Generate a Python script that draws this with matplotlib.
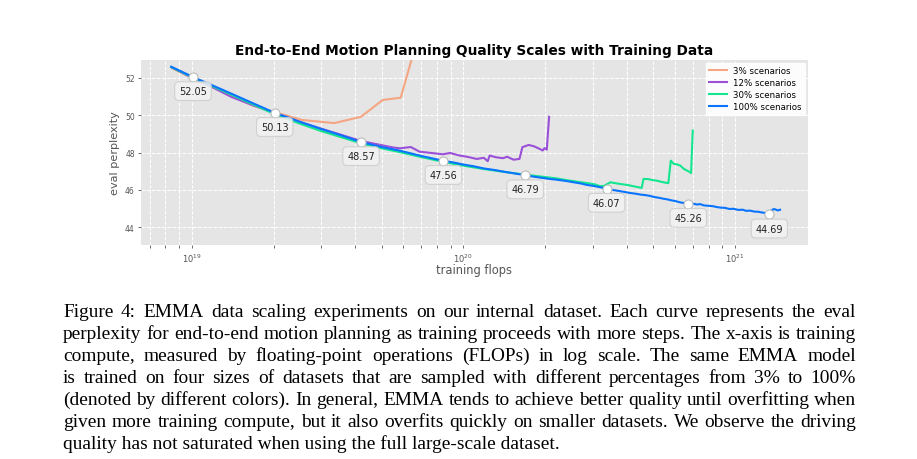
import matplotlib
matplotlib.use("Agg")
import matplotlib.pyplot as plt
from matplotlib.ticker import LogLocator, NullFormatter

# ---------------- data ----------------
labels = ["3% scenarios", "12% scenarios", "30% scenarios", "100% scenarios"]

x3 = [8.45e18, 1.01e19, 1.27e19, 1.69e19, 2.54e19, 3.35e19, 4.2e19, 5.05e19, 5.88e19, 6.75e19]
y3 = [52.52, 51.98, 51.32, 50.50, 49.75, 49.58, 49.92, 50.82, 50.94, 54.0]

x12 = [8.4e18, 1.01e19, 1.2e19, 1.4e19, 1.69e19, 2.02e19, 2.53e19, 3.0e19, 3.5e19, 4.2e19,
       5.07e19, 5.53e19, 5.85e19, 6.4e19, 6.9e19, 7.73e19, 8.4e19, 8.94e19, 9.7e19, 1.03e20,
       1.12e20, 1.19e20, 1.23e20, 1.25e20, 1.32e20, 1.40e20, 1.45e20, 1.53e20, 1.61e20, 1.65e20,
       1.74e20, 1.82e20, 1.91e20, 1.96e20, 1.99e20, 2.03e20, 2.07e20]
y12 = [52.58, 51.98, 51.48, 50.98, 50.52, 50.12, 49.62, 49.28, 48.98, 48.62,
       48.38, 48.27, 48.23, 48.30, 48.05, 47.97, 47.91, 47.98, 47.84, 47.78,
       47.66, 47.72, 47.54, 47.84, 47.75, 47.70, 47.78, 47.62, 47.66, 48.29,
       48.41, 48.34, 48.20, 48.11, 48.24, 48.16, 49.92]

x30 = [8.4e18, 1.01e19, 1.3e19, 1.6e19, 2.02e19, 2.5e19, 3.0e19, 3.5e19, 4.2e19, 5.0e19,
       5.85e19, 7.0e19, 8.45e19, 1.0e20, 1.19e20, 1.42e20, 1.69e20, 2.0e20, 2.2e20, 2.39e20,
       2.6e20, 2.85e20, 3.05e20, 3.19e20, 3.3e20, 3.48e20, 3.6e20, 3.78e20, 4.0e20, 4.23e20,
       4.4e20, 4.54e20, 4.61e20, 4.8e20, 5.0e20, 5.15e20, 5.31e20, 5.5e20, 5.69e20, 5.81e20,
       5.95e20, 6.15e20, 6.3e20, 6.5e20, 6.75e20, 6.9e20, 7.0e20]
y30 = [52.58, 52.02, 51.31, 50.72, 50.06, 49.55, 49.15, 48.85, 48.50, 48.23,
       48.02, 47.76, 47.50, 47.30, 47.12, 46.96, 46.82, 46.69, 46.62, 46.53,
       46.45, 46.37, 46.30, 46.20, 46.22, 46.41, 46.37, 46.32, 46.27, 46.20,
       46.15, 46.11, 46.59, 46.58, 46.52, 46.50, 46.45, 46.40, 46.36, 47.57,
       47.40, 47.36, 47.30, 47.12, 47.00, 46.90, 49.18]

x100 = [8.4e18, 1.01e19, 1.3e19, 1.6e19, 2.02e19, 2.5e19, 3.0e19, 3.5e19, 4.2e19, 5.0e19,
        5.85e19, 7.0e19, 8.45e19, 9.2e19, 1.0e20, 1.09e20, 1.19e20, 1.3e20, 1.42e20, 1.55e20,
        1.69e20, 1.8e20, 1.92e20, 2.05e20, 2.2e20, 2.39e20, 2.55e20, 2.7e20, 2.85e20, 3.0e20,
        3.18e20, 3.37e20, 3.55e20, 3.72e20, 3.9e20, 4.1e20, 4.3e20, 4.5e20, 4.7e20, 4.87e20,
        5.05e20, 5.25e20, 5.45e20, 5.62e20, 5.85e20, 6.05e20, 6.3e20, 6.5e20, 6.74e20, 7.0e20,
        7.25e20, 7.45e20, 7.7e20, 8.0e20, 8.3e20, 8.59e20, 8.9e20, 9.2e20, 9.55e20, 9.89e20,
        1.03e21, 1.07e21, 1.1e21, 1.138e21, 1.18e21, 1.22e21, 1.26e21, 1.29e21, 1.31e21, 1.34e21,
        1.36e21, 1.387e21, 1.41e21, 1.44e21, 1.468e21]
y100 = [52.60, 52.05, 51.36, 50.78, 50.13, 49.65, 49.26, 48.95, 48.57, 48.30,
        48.10, 47.82, 47.56, 47.47, 47.36, 47.27, 47.15, 47.07, 46.97, 46.88,
        46.79, 46.72, 46.66, 46.60, 46.55, 46.48, 46.41, 46.35, 46.27, 46.22,
        46.15, 46.07, 46.00, 45.95, 45.90, 45.84, 45.80, 45.75, 45.72, 45.68,
        45.62, 45.58, 45.53, 45.50, 45.44, 45.40, 45.33, 45.30, 45.26, 45.27,
        45.22, 45.24, 45.17, 45.15, 45.13, 45.08, 45.05, 45.04, 44.98, 44.99,
        44.93, 44.94, 44.88, 44.89, 44.84, 44.83, 44.79, 44.77, 44.74, 44.69,
        44.88, 44.97, 44.96, 44.90, 44.94]

mark_x = [1.01e19, 2.02e19, 4.2e19, 8.45e19, 1.69e20, 3.37e20, 6.74e20, 1.34e21]
mark_y = [52.05, 50.13, 48.57, 47.56, 46.79, 46.07, 45.26, 44.69]

title = "End-to-End Motion Planning Quality Scales with Training Data"
xlabel = "training flops"
ylabel = "eval perplexity"

caption_lines = [
    "Figure 4: EMMA data scaling experiments on our internal dataset. Each curve represents the eval",
    "perplexity for end-to-end motion planning as training proceeds with more steps. The x-axis is training",
    "compute, measured by floating-point operations (FLOPs) in log scale.  The same EMMA model",
    "is trained on four sizes of datasets that are sampled with different percentages from 3% to 100%",
    "(denoted by different colors). In general, EMMA tends to achieve better quality until overfitting when",
    "given more training compute, but it also overfits quickly on smaller datasets. We observe the driving",
    "quality has not saturated when using the full large-scale dataset.",
]

colors = ["#f4a582", "#9a50d8", "#14e68f", "#0a74ff"]

# ---------------- figure ----------------
W, H = 917, 460
fig = plt.figure(figsize=(W / 100, H / 100), dpi=100)
L, R, T, B = 141, 808, 61, 246
ax = fig.add_axes([L / W, 1 - B / H, (R - L) / W, (B - T) / H])
ax.set_facecolor("#e5e5e5")
for s in ax.spines.values():
    s.set_visible(False)

series = [(x3, y3), (x12, y12), (x30, y30), (x100, y100)]
for (xs, ys), c, lab in zip(series, colors, labels):
    ax.plot(xs, ys, color=c, lw=1.5, label=lab, zorder=3)

ax.set_xscale("log")
ax.set_xlim(6.5e18, 1.86e21)
ax.set_ylim(43.05, 52.96)
ax.set_yticks([44, 46, 48, 50, 52])
ax.xaxis.set_minor_locator(LogLocator(base=10, subs=range(2, 10), numticks=50))
ax.xaxis.set_minor_formatter(NullFormatter())

ax.set_axisbelow(True)
ax.grid(which="major", axis="both", color="white", ls="--", lw=0.7)
ax.grid(which="minor", axis="x", color="white", ls="--", lw=0.7)

ax.tick_params(axis="both", which="both", colors="#555555", length=2.5, width=0.6, pad=2)
ax.tick_params(axis="y", labelsize=5.5)
ax.tick_params(axis="x", labelsize=6)

ax.plot(mark_x, mark_y, "o", ms=6.5, mfc="white", mec="#bbbbbb", mew=0.8, zorder=5)
for mx, my in zip(mark_x, mark_y):
    ax.annotate(f"{my:.2f}", (mx, my), xytext=(0, -10.2), textcoords="offset points",
                ha="center", va="center", fontsize=7, color="#222222", zorder=6,
                bbox=dict(boxstyle="round,pad=0.45", fc="#f2f2f2", ec="#cccccc", lw=0.8, alpha=0.85))

ax.set_title(title, fontsize=9.9, fontweight="bold", pad=4)
ax.set_xlabel(xlabel, fontsize=8.3, color="#555555")
ax.set_ylabel(ylabel, fontsize=8.1, color="#555555")
ax.xaxis.set_label_coords(0.5, -0.097)
ax.yaxis.set_label_coords(-0.032, 0.5)

leg = ax.legend(loc="upper right", fontsize=6.2, frameon=True, facecolor="white",
                edgecolor="white", framealpha=0.9, borderaxespad=0.3, labelspacing=0.35,
                handlelength=2.0, fancybox=False)

# ---------------- caption (justified) ----------------
fig.canvas.draw()
rend = fig.canvas.get_renderer()
cap_font = "Liberation Serif"
x_left, x_right = 63.0, 856.0
span = x_right - x_left


def width_at10(s):
    t = fig.text(0, 0, s, fontsize=10, family=cap_font)
    w = t.get_window_extent(renderer=rend).width
    t.remove()
    return w


em10 = 10 * 100 / 72.0
fs_candidates = [10 * 510.0 / width_at10(caption_lines[-1])]
for line in caption_lines[:-1]:
    ws = line.split()
    tot = sum(width_at10(w) for w in ws)
    fs_candidates.append(10 * span / (tot + (len(ws) - 1) * 0.25 * em10))
cap_fs = min(fs_candidates)

base0, dy = 317.0, 22.0
for i, line in enumerate(caption_lines):
    yb = 1 - (base0 + i * dy) / H
    if i == len(caption_lines) - 1:
        fig.text(x_left / W, yb, line, fontsize=cap_fs, family=cap_font, va="baseline", ha="left")
        continue
    words = line.split()
    texts = [fig.text(0, yb, w, fontsize=cap_fs, family=cap_font, va="baseline", ha="left") for w in words]
    widths = [t.get_window_extent(renderer=rend).width for t in texts]
    gap = (span - sum(widths)) / (len(words) - 1)
    xpos = x_left
    for t, wd in zip(texts, widths):
        t.set_x(xpos / W)
        xpos += wd + gap

fig.savefig("out.png", dpi=100)
